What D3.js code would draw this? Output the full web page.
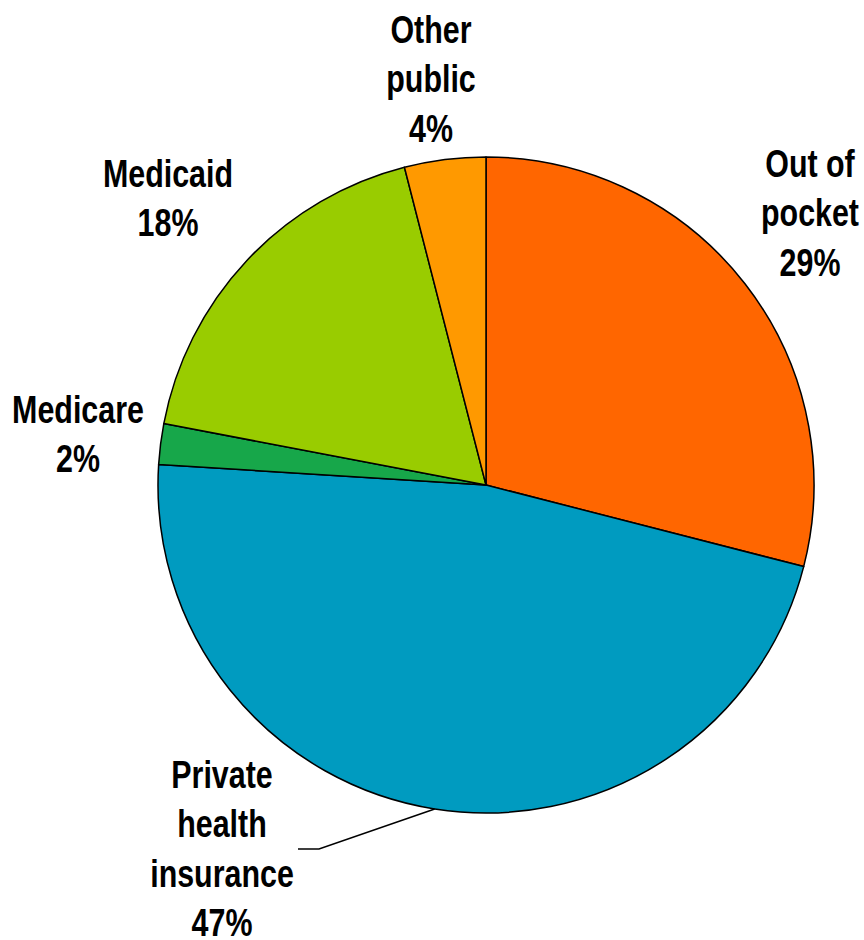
<!DOCTYPE html>
<html>
<head>
<meta charset="utf-8">
<script src="https://cdn.jsdelivr.net/npm/d3@7"></script>
<style>
  html, body { margin: 0; padding: 0; background: #fff; }
  svg { display: block; }
  .lbl { font-family: "Liberation Sans", Arial, sans-serif; font-weight: bold; font-size: 38px; fill: #000; }
</style>
</head>
<body>
<svg id="chart" width="864" height="940"></svg>
<script>
// Sources of payment, share of total (percent)
const categories = ["Out of pocket", "Private health insurance", "Medicare", "Medicaid", "Other public"];
const values = [29, 47, 2, 18, 4];
const colors = ["#FF6600", "#009BC0", "#17A74A", "#99CC00", "#FF9900"];
// Label text split into lines
const labelLines = [
  ["Out of", "pocket", "29%"],
  ["Private", "health", "insurance", "47%"],
  ["Medicare", "2%"],
  ["Medicaid", "18%"],
  ["Other", "public", "4%"]
];
// Label anchor (center x, first baseline y)
const labelPos = [
  [810, 177],
  [222, 788],
  [78, 423],
  [168, 187],
  [431, 43]
];

const svg = d3.select("#chart");
const cx = 486, cy = 485, r = 328;

const pie = d3.pie().sort(null).value(d => d.value);
const data = categories.map((c, i) => ({ name: c, value: values[i], color: colors[i] }));
const arcs = pie(data);
const arc = d3.arc().innerRadius(0).outerRadius(r);

const g = svg.append("g").attr("transform", `translate(${cx},${cy})`);
g.selectAll("path.slice")
  .data(arcs)
  .join("path")
  .attr("class", "slice")
  .attr("d", arc)
  .attr("fill", d => d.data.color)
  .attr("stroke", "#000")
  .attr("stroke-width", 1.5)
  .attr("stroke-linejoin", "round");

// Leader line for the private insurance label, from the slice's mid-angle edge
const priv = arcs[1];
const mid = (priv.startAngle + priv.endAngle) / 2;
const ex = Math.sin(mid) * r, ey = -Math.cos(mid) * r;
svg.append("polyline")
  .attr("points", `${cx + ex},${cy + ey} 319,849 298,849`)
  .attr("fill", "none")
  .attr("stroke", "#000")
  .attr("stroke-width", 1.5);

// Condensed bold labels
const lineH = 49.5;
labelLines.forEach((lines, i) => {
  const t = svg.append("text")
    .attr("class", "lbl")
    .attr("text-anchor", "middle")
    .attr("transform", `translate(${labelPos[i][0]},${labelPos[i][1]}) scale(0.8,1)`);
  lines.forEach((s, j) => {
    t.append("tspan")
      .attr("x", 0)
      .attr("dy", j === 0 ? 0 : lineH)
      .text(s);
  });
});
</script>
</body>
</html>
